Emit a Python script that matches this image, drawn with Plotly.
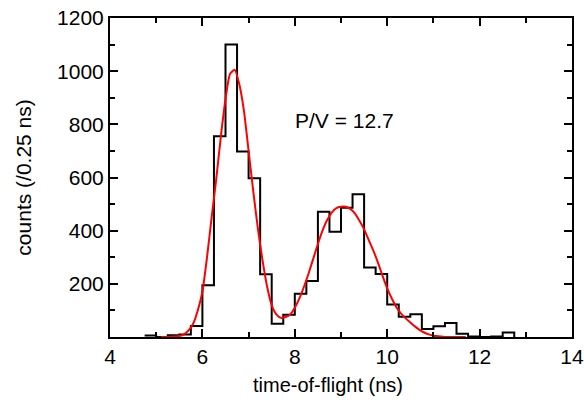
import plotly.graph_objects as go

# Histogram: bin left edges (ns) and counts per 0.25 ns bin
bin_edges = [4.75, 5.0, 5.25, 5.5, 5.75, 6.0, 6.25, 6.5, 6.75, 7.0, 7.25, 7.5, 7.75,
             8.0, 8.25, 8.5, 8.75, 9.0, 9.25, 9.5, 9.75, 10.0, 10.25, 10.5, 10.75,
             11.0, 11.25, 11.5, 11.75, 12.0, 12.25, 12.5, 12.75]
counts = [6, 0, 7, 9, 41, 195, 755, 1100, 698, 597, 236, 50, 84,
          163, 211, 471, 396, 486, 537, 261, 237, 122, 76, 86, 30,
          40, 53, 12, 2, 0, 2, 17, 0]

# Fit curve
fit_x = [5.1, 5.2, 5.3, 5.4, 5.5, 5.6, 5.7, 5.8, 5.9, 6.0, 6.1, 6.2, 6.3, 6.4, 6.5,
         6.6, 6.7, 6.8, 6.9, 7.0, 7.1, 7.2, 7.3, 7.4, 7.5, 7.6, 7.7, 7.8, 7.9, 8.0,
         8.1, 8.2, 8.3, 8.4, 8.5, 8.6, 8.7, 8.8, 8.9, 9.0, 9.1, 9.2, 9.3, 9.4, 9.5,
         9.6, 9.7, 9.8, 9.9, 10.0, 10.1, 10.2, 10.3, 10.4, 10.5, 10.6, 10.7, 10.8,
         10.9, 11.0, 11.1, 11.2, 11.3, 11.5, 11.7]
fit_y = [0, 0, 1, 2, 4, 10, 25, 50, 100, 170, 300, 450, 595, 755, 895,
         990, 1005, 950, 850, 700, 550, 410, 290, 190, 120, 85, 72, 75, 85, 110,
         145, 190, 240, 295, 350, 400, 440, 468, 485, 490, 490, 482, 465, 437, 405,
         365, 325, 280, 230, 183, 145, 112, 88, 70, 55, 40, 27, 17,
         10, 5, 3, 1, 0, 0, 0]

x_ticks = [4, 6, 8, 10, 12, 14]
y_ticks = [0, 200, 400, 600, 800, 1000, 1200]
y_ticktext = ["", "200", "400", "600", "800", "1000", "1200"]

font_family = "Liberation Sans, Arial, sans-serif"

fig = go.Figure()
fig.add_trace(go.Scatter(x=bin_edges, y=counts, mode="lines",
                         line=dict(color="black", width=2, shape="hv"),
                         showlegend=False))
fig.add_trace(go.Scatter(x=fit_x, y=fit_y, mode="lines",
                         line=dict(color="#ff0000", width=2, shape="spline", smoothing=0.6),
                         showlegend=False))

fig.add_annotation(x=7.96, y=815, text="P/V = 12.7", showarrow=False,
                   xanchor="left", yanchor="middle",
                   font=dict(size=21, color="black", family=font_family))

# Axis titles
fig.add_annotation(x=-0.188, y=0.5, xref="paper", yref="paper", text="counts (/0.25 ns)",
                   showarrow=False, textangle=-90, xanchor="center", yanchor="middle",
                   font=dict(size=21, color="black", family=font_family))
fig.add_annotation(x=0.472, y=-0.152, xref="paper", yref="paper", text="time-of-flight (ns)",
                   showarrow=False, xanchor="center", yanchor="middle",
                   font=dict(size=20, color="black", family=font_family))

axis_common = dict(showline=True, linecolor="black", linewidth=2, mirror="ticks",
                   ticks="inside", ticklen=8, tickwidth=1.5, tickcolor="black",
                   showgrid=False, zeroline=False, automargin=False,
                   ticklabeloverflow="allow",
                   tickfont=dict(size=21, color="black", family=font_family))

fig.update_xaxes(range=[4, 14], tickmode="array", tickvals=x_ticks,
                 minor=dict(tickmode="linear", tick0=4, dtick=1, ticks="inside",
                            ticklen=5, tickwidth=1.5, tickcolor="black"),
                 **axis_common)
fig.update_yaxes(range=[0, 1200], tickmode="array", tickvals=y_ticks, ticktext=y_ticktext,
                 minor=dict(tickmode="linear", tick0=0, dtick=100, ticks="inside",
                            ticklen=5, tickwidth=1.5, tickcolor="black"),
                 **axis_common)

fig.update_layout(width=584, height=403, plot_bgcolor="white", paper_bgcolor="white",
                  margin=dict(l=110, r=12, t=18, b=66),
                  font=dict(family=font_family, color="black"))

# Remove the default page margin so the figure fills the window exactly
fig.write_html("out.html",
               config={"displayModeBar": False},
               post_script="document.body.style.margin='0';document.body.style.overflow='hidden';")
